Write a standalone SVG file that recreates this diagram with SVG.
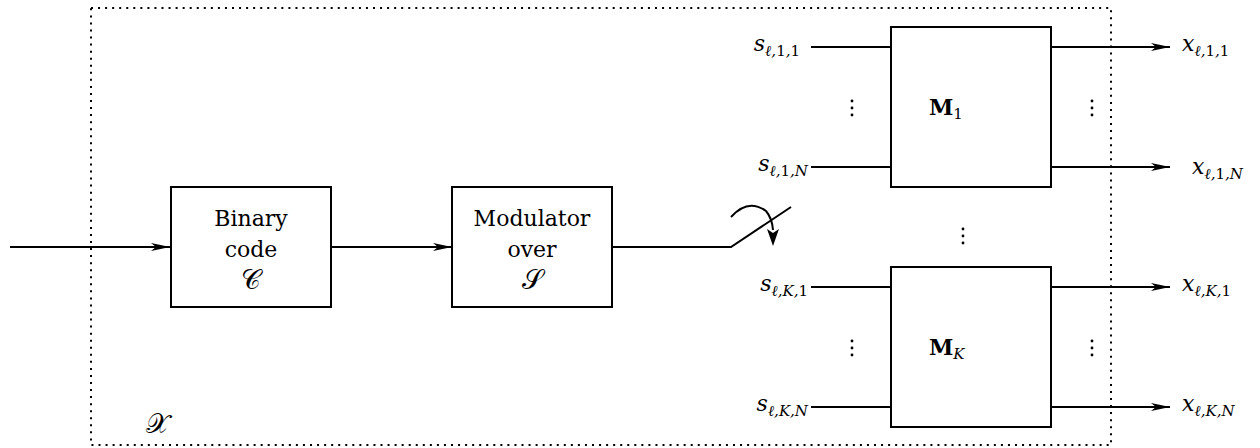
<svg xmlns="http://www.w3.org/2000/svg" width="1260" height="448" viewBox="0 0 1260 448">
<style>
.box{fill:#fff;stroke:#000;stroke-width:2}
.ln{fill:none;stroke:#000;stroke-width:2}
.t{font-family:"DejaVu Serif","Liberation Serif",serif;font-size:22px;fill:#000}
.m{font-family:"DejaVu Serif","Liberation Serif",serif;font-style:italic;font-size:22px;fill:#000}
.sub{font-size:15px}
.up{font-style:normal}
.cal{font-family:"DejaVu Serif","Liberation Serif",serif;font-size:27px;fill:#000}
.b{font-family:"DejaVu Serif","Liberation Serif",serif;font-weight:bold;font-size:22px;fill:#000}
.dots{fill:#000}
</style>
<defs>
<marker id="arr" viewBox="0 0 19 8" refX="19" refY="4" markerWidth="19" markerHeight="8" markerUnits="userSpaceOnUse" orient="auto">
<path d="M0,0 L19,4 L0,8 L5,4 z" fill="#000"/>
</marker>
</defs>
<rect x="91" y="8" width="1020" height="437" fill="none" stroke="#000" stroke-width="2" stroke-dasharray="2 5.05" id="frame"/>
<text class="cal" x="146" y="433">𝒳</text>
<g id="connectors">
<line class="ln" x1="10" y1="247" x2="170" y2="247" marker-end="url(#arr)"/>
<line class="ln" x1="331" y1="247" x2="452" y2="247" marker-end="url(#arr)"/>
<polyline class="ln" points="612,247 731,247 791,207"/>
<path class="ln" d="M731,217 Q748,198 766,211 Q772,218 773,230"/>
<path d="M767,229 L773,246 L779,229 L773,233 z" fill="#000"/>
<line class="ln" x1="811" y1="47" x2="891" y2="47"/>
<line class="ln" x1="811" y1="167" x2="891" y2="167"/>
<line class="ln" x1="811" y1="287" x2="891" y2="287"/>
<line class="ln" x1="811" y1="407" x2="891" y2="407"/>
<line class="ln" x1="1051" y1="47" x2="1170" y2="47" marker-end="url(#arr)"/>
<line class="ln" x1="1051" y1="167" x2="1170" y2="167" marker-end="url(#arr)"/>
<line class="ln" x1="1051" y1="287" x2="1170" y2="287" marker-end="url(#arr)"/>
<line class="ln" x1="1051" y1="407" x2="1170" y2="407" marker-end="url(#arr)"/>
</g>
<g id="binary">
<rect class="box" x="171" y="187" width="160" height="120"/>
<text class="t" x="251" y="226" text-anchor="middle">Binary</text>
<text class="t" x="251" y="257" text-anchor="middle">code</text>
<text class="cal" x="251" y="289" text-anchor="middle">𝒞</text>
</g>
<g id="modulator">
<rect class="box" x="452" y="187" width="160" height="120"/>
<text class="t" x="532" y="226" text-anchor="middle">Modulator</text>
<text class="t" x="532" y="257" text-anchor="middle">over</text>
<text class="cal" x="532" y="289" text-anchor="middle">𝒮</text>
</g>
<g id="M1">
<rect class="box" x="891" y="27" width="160" height="160"/>
<text class="b" x="929" y="115">M<tspan class="sub" font-weight="normal" dy="4">1</tspan></text>
</g>
<g id="MK">
<rect class="box" x="891" y="267" width="160" height="160"/>
<text class="b" x="929" y="355">M<tspan class="sub" font-weight="normal" font-style="italic" dy="4">K</tspan></text>
</g>
<g id="labels">
<text class="m" x="800" y="51" text-anchor="end">s<tspan class="sub" dy="5">ℓ,<tspan class="up">1</tspan>,<tspan class="up">1</tspan></tspan></text>
<text class="m" x="808" y="171" text-anchor="end">s<tspan class="sub" dy="5">ℓ,<tspan class="up">1</tspan>,N</tspan></text>
<text class="m" x="808" y="291" text-anchor="end">s<tspan class="sub" dy="5">ℓ,K,<tspan class="up">1</tspan></tspan></text>
<text class="m" x="808" y="411" text-anchor="end">s<tspan class="sub" dy="5">ℓ,K,N</tspan></text>
<text class="m" x="1182" y="51">x<tspan class="sub" dy="5">ℓ,<tspan class="up">1</tspan>,<tspan class="up">1</tspan></tspan></text>
<text class="m" x="1192" y="174">x<tspan class="sub" dy="5">ℓ,<tspan class="up">1</tspan>,N</tspan></text>
<text class="m" x="1182" y="291">x<tspan class="sub" dy="5">ℓ,K,<tspan class="up">1</tspan></tspan></text>
<text class="m" x="1182" y="411">x<tspan class="sub" dy="5">ℓ,K,N</tspan></text>
</g>
<g id="vdots" class="dots">
<circle cx="852" cy="101" r="1.4"/><circle cx="852" cy="108" r="1.4"/><circle cx="852" cy="115" r="1.4"/>
<circle cx="1092" cy="101" r="1.4"/><circle cx="1092" cy="108" r="1.4"/><circle cx="1092" cy="115" r="1.4"/>
<circle cx="963" cy="229" r="1.4"/><circle cx="963" cy="236" r="1.4"/><circle cx="963" cy="243" r="1.4"/>
<circle cx="852" cy="341" r="1.4"/><circle cx="852" cy="348" r="1.4"/><circle cx="852" cy="355" r="1.4"/>
<circle cx="1092" cy="341" r="1.4"/><circle cx="1092" cy="348" r="1.4"/><circle cx="1092" cy="355" r="1.4"/>
</g>
</svg>
